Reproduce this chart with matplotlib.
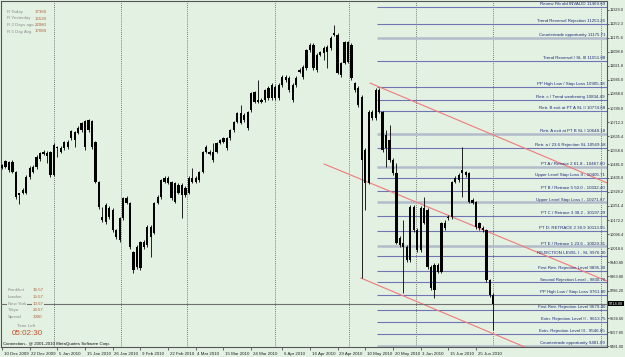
import matplotlib
matplotlib.use("Agg")
import matplotlib.pyplot as plt
import matplotlib.transforms as mtransforms

# Daily candles (body top / body bottom / high / low), 10 Dec 2009 - 1 Jul 2010
body_hi = [10476, 10498, 10493, 10493, 10438, 10322, 10339, 10410, 10460, 10465,
           10520, 10542, 10548, 10542, 10548, 10586, 10575, 10570, 10603, 10603,
           10663, 10658, 10680, 10707, 10718, 10724, 10718, 10603, 10383, 10190,
           10256, 10240, 10229, 10119, 10185, 10295, 10295, 10267, 9998, 10025,
           10053, 10053, 10135, 10135, 10267, 10300, 10394, 10405, 10405, 10383,
           10377, 10366, 10366, 10350, 10405, 10405, 10405, 10438, 10548, 10575,
           10548, 10548, 10597, 10614, 10625, 10625, 10669, 10713, 10762, 10762,
           10751, 10768, 10872, 10878, 10834, 10834, 10889, 10900, 10916, 10905,
           10916, 10960, 10960, 10955, 10916, 10955, 10999, 11015, 11109, 11136,
           11136, 11081, 11098, 11120, 11125, 11175, 11202, 11191, 11037, 11153,
           11153, 11136, 10927, 10900, 10850, 10559, 10768, 10768, 10889, 10889,
           10768, 10641, 10614, 10504, 10432, 10075, 10047, 10025, 10245, 10245,
           10119, 10240, 10240, 10229, 9915, 9926, 9926, 10157, 10157, 10190,
           10383, 10405, 10421, 10449, 10438, 10432, 10284, 10273, 10157, 10130,
           10119, 9844, 9761]
body_lo = [10460, 10465, 10449, 10438, 10300, 10311, 10322, 10322, 10410, 10438,
           10465, 10510, 10537, 10526, 10421, 10421, 10570, 10548, 10570, 10575,
           10625, 10614, 10652, 10669, 10575, 10669, 10575, 10383, 10245, 10174,
           10163, 10190, 10119, 10080, 10064, 10185, 10267, 10025, 9899, 9915,
           9910, 10025, 10036, 10080, 10102, 10267, 10300, 10383, 10377, 10295,
           10273, 10322, 10311, 10311, 10322, 10383, 10383, 10394, 10438, 10548,
           10537, 10504, 10548, 10597, 10603, 10570, 10625, 10669, 10713, 10707,
           10724, 10680, 10779, 10823, 10823, 10823, 10834, 10845, 10845, 10845,
           10845, 10916, 10944, 10889, 10834, 10916, 10988, 10960, 11010, 11109,
           11010, 10999, 11081, 11092, 11098, 11120, 11191, 10982, 10971, 11037,
           11043, 10955, 10889, 10806, 10504, 10377, 10377, 10735, 10735, 10768,
           10559, 10570, 10504, 10432, 10047, 10036, 10025, 9954, 9954, 10119,
           10009, 10009, 10157, 9915, 9800, 9789, 9888, 9888, 10130, 10185,
           10190, 10383, 10394, 10432, 10421, 10273, 10267, 10135, 10130, 10119,
           9844, 9761, 9714]
high = [10482, 10504, 10500, 10504, 10445, 10325, 10350, 10420, 10470, 10475,
        10530, 10550, 10560, 10555, 10555, 10595, 10580, 10580, 10610, 10612,
        10670, 10665, 10690, 10715, 10725, 10730, 10725, 10610, 10390, 10245,
        10265, 10250, 10240, 10125, 10190, 10300, 10305, 10275, 10005, 10035,
        10060, 10065, 10145, 10145, 10275, 10310, 10400, 10415, 10415, 10390,
        10385, 10375, 10375, 10360, 10415, 10460, 10415, 10445, 10555, 10585,
        10560, 10597, 10605, 10620, 10632, 10632, 10675, 10720, 10770, 10806,
        10760, 10775, 10880, 10885, 10944, 10845, 10895, 10910, 10925, 10915,
        10925, 10970, 10970, 10965, 10925, 10965, 11010, 11025, 11115, 11145,
        11145, 11090, 11105, 11130, 11135, 11185, 11246, 11200, 11045, 11160,
        11160, 11145, 10935, 10910, 10860, 10570, 10780, 10780, 10900, 10900,
        10775, 10669, 10696, 10515, 10487, 10085, 10174, 10035, 10255, 10255,
        10130, 10250, 10300, 10240, 9925, 9935, 9935, 10165, 10174, 10200,
        10390, 10415, 10430, 10575, 10445, 10440, 10295, 10280, 10165, 10140,
        10125, 9850, 9770]
low = [10454, 10460, 10440, 10430, 10290, 10262, 10315, 10315, 10400, 10430,
       10455, 10500, 10530, 10487, 10410, 10415, 10520, 10540, 10560, 10565,
       10615, 10575, 10645, 10660, 10559, 10660, 10565, 10375, 10235, 10163,
       10150, 10180, 10110, 10070, 10055, 10175, 10260, 10015, 9882, 9905,
       9900, 10015, 10025, 9970, 10095, 10260, 10290, 10375, 10370, 10285,
       10265, 10315, 10185, 10300, 10315, 10375, 10375, 10385, 10430, 10540,
       10530, 10493, 10540, 10590, 10595, 10560, 10615, 10660, 10705, 10700,
       10715, 10670, 10770, 10815, 10815, 10815, 10825, 10835, 10835, 10835,
       10835, 10905, 10935, 10880, 10825, 10905, 10980, 10950, 11000, 11100,
       11000, 10990, 11075, 11054, 11010, 11110, 11185, 10975, 10960, 11030,
       11035, 10945, 10880, 10795, 9855, 10229, 10370, 10725, 10725, 10760,
       10550, 10465, 10495, 10420, 10040, 10025, 9772, 9945, 9945, 10110,
       10000, 10000, 10150, 9905, 9790, 9745, 9880, 9880, 10120, 10175,
       10180, 10375, 10385, 10300, 10410, 10265, 10260, 10125, 10120, 10110,
       9835, 9750, 9569]

# Date labels along the bottom (bar index of each label)
date_pos = [0, 8, 16, 24, 32, 40, 48, 56, 64, 72, 81, 89, 97, 105, 113, 121, 129, 137]
date_labels = ["10 Dec 2009", "22 Dec 2009", "5 Jan 2010", "15 Jan 2010", "26 Jan 2010",
               "9 Feb 2010", "22 Feb 2010", "4 Mar 2010", "15 Mar 2010", "24 Mar 2010",
               "6 Apr 2010", "16 Apr 2010", "29 Apr 2010", "10 May 2010", "20 May 2010",
               "3 Jun 2010", "15 Jun 2010", "25 Jun 2010"]
# Month separators (first bar of each month)
month_pos = [15, 34.4, 53.5, 79, 100.3, 119.7, 142, 173]

# Price scale on the right
price_ticks = [11329.0, 11252.3, 11175.6, 11098.8, 11021.8, 10945.0, 10868.0, 10789.0,
               10712.3, 10635.4, 10558.6, 10481.0, 10405.0, 10328.2, 10251.4, 10172.2,
               10096.4, 10018.6, 9940.80, 9863.80, 9786.20, 9634.60, 9557.80, 9481.00]
bid = 9714.00

# Horizontal levels drawn by the indicator
level_price = [11345, 11253.26, 11175.71, 11051.08, 10905.38, 10834.49, 10774.68,
               10648.18, 10569.58, 10467.60, 10405.71, 10332.40, 10271.67, 10197.29,
               10113.55, 10029.31, 9976.30, 9895.30, 9830.70, 9761.80, 9679.40,
               9613.75, 9546.65, 9481.09]
level_text = ["Renew Fib old INVALID 11469.69", "Trend Reversal Rejection 11253.26",
              "Countertrade opportunity 11175.71", "Trend Reversal / SL III 11051.08",
              "PP High Low / Stop Loss 10905.38", "Retr. c / Trend weakening 10834.49",
              "Retr. B exit at PT A SL II 10774.68", "Retr. A exit at PT B SL I 10648.18",
              "Retr. a / 23.6 Rejection SL 10569.58", "PT A / Retrace 2 61.8 - 10467.60",
              "Upper Level Stop Loss II - 10405.71", "PT B / Retrace 5 50.0 - 10332.40",
              "Upper Level Stop Loss I - 10271.67", "PT C / Retrace 3 38.2 - 10197.29",
              "PT D: RETRACE 2 38.9 10113.55", "PT E / Retrace 1 23.6 - 10029.31",
              "REJECTION LEVEL I - SL 9976.30", "First Retr. Rejection Level 9895.30",
              "Second Rejection Level - 9830.70", "PP High Low / Stop Loss 9761.80",
              "First Retr. Rejection Level 9679.40", "Extn. Rejection Level II - 9613.75",
              "Extn. Rejection Level III - 9546.65", "Countertrade opportunity 9481.09"]
level_grey = [2, 7, 9, 12, 15, 23]
level_start = 108.4

# Channel lines: (start bar, start price, end bar, end price)
channels = [(106.4, 10927, 174.9, 10378),
            (93.1, 10482, 174.9, 9838),
            (103.7, 9855, 174.9, 9285)]

# Info panels
info_top = [("R Today", "17360"), ("R Yesterday", "15530"),
            ("R 2 Days ago", "22080"), ("R 5 Day Avg", "17089")]
info_clock = [("Frankfurt", "16:57"), ("London", "15:57"), ("New York", "10:57"),
              ("Tokyo", "23:57"), ("Spread", "3000")]

BG = "#e3f1e3"
NAVY = "#1f2a7a"
FONT = "Liberation Sans"
W, H = 625, 357

fig = plt.figure(figsize=(W / 100, H / 100), dpi=100, facecolor=BG)
ax = fig.add_axes([1 / W, (H - 347) / H, 606 / W, 346 / H])
ax.set_facecolor(BG)
ax.set_xlim(-0.29, 174.86)
ax.set_ylim(9475.5, 11378.5)

n = len(body_hi)
xs = list(range(n))

# month separators
for m in month_pos:
    ax.axvline(m, color="#555555", lw=0.6, ls=(0, (1, 1.5)), zorder=1)

# levels
for i, (p, t) in enumerate(zip(level_price, level_text)):
    if i in level_grey:
        ax.hlines(p, level_start, 174.86, color="#b3bbca", lw=1.8, zorder=2)
    else:
        ax.hlines(p, level_start, 174.86, color="#6f74b4", lw=0.8, zorder=2)
    ax.text(174.3, p + 4, t, ha="right", va="bottom", fontsize=3.2,
            color=NAVY, family=FONT, zorder=5)

# channel lines
for x0, y0, x1, y1 in channels:
    ax.plot([x0, x1], [y0, y1], color="#f07a7a", lw=0.8, zorder=3)

# bid line
ax.axhline(bid, color="#707070", lw=0.8, zorder=3)

# candles
ax.vlines(xs, low, high, color="black", lw=0.6, zorder=4)
heights = [max(h - l, 5.5) for h, l in zip(body_hi, body_lo)]
ax.bar(xs, heights, bottom=body_lo, width=0.65, color="black", lw=0, zorder=4)

# axes styling
for s in ax.spines.values():
    s.set_color("#555555")
    s.set_linewidth(0.8)
ax.yaxis.tick_right()
ax.set_yticks(price_ticks)
ax.set_yticklabels(["%.1f" % v if v >= 10000 else "%.2f" % v for v in price_ticks])
ax.set_xticks(date_pos)
ax.set_xticklabels(date_labels)
ax.tick_params(axis="x", length=2, width=0.5, color="#333333", labelsize=3.2,
               labelcolor="#222222", pad=1.5)
ax.tick_params(axis="y", length=1.5, width=0.5, color="#333333", labelsize=2.75,
               labelcolor="#222222", pad=0.6)
offset = mtransforms.ScaledTranslation(1.2 / 72, 0, fig.dpi_scale_trans)
for lab in ax.get_xticklabels():
    lab.set_horizontalalignment("left")
    lab.set_transform(lab.get_transform() + offset)
    lab.set_family(FONT)
for lab in ax.get_yticklabels():
    lab.set_family(FONT)

# current price box
ax.text(1.003, bid, "%.2f" % bid, transform=ax.get_yaxis_transform(), ha="left",
        va="center", fontsize=2.75, color="white", family=FONT,
        bbox=dict(facecolor="black", edgecolor="none", pad=0.5), clip_on=False)

# info texts
def px(x, y):
    return x / W, 1 - y / H

for k, (a, b) in enumerate(info_top):
    fig.text(*px(7, 12 + 6.5 * k), a, fontsize=3.2, color="#8c8c8c", va="center",
             family=FONT)
    fig.text(*px(35, 12 + 6.5 * k), b, fontsize=3.2, color="#b0603c", va="center",
             family=FONT)

bb = dict(facecolor=BG, edgecolor="none", pad=0.4)
for k, (a, b) in enumerate(info_clock):
    fig.text(*px(8, 290 + 6.8 * k), a, fontsize=3.2, color="#8c8c8c", va="center",
             family=FONT, bbox=bb)
    fig.text(*px(33, 290 + 6.8 * k), b, fontsize=3.2, color="#b0603c", va="center",
             family=FONT, bbox=bb)
fig.text(*px(26, 326), "Time Left", fontsize=3.2, color="#8c8c8c", va="center",
         ha="center", family=FONT)
fig.text(*px(27, 333.5), "05:02:30", fontsize=5.8, color="#c0502a", va="center",
         ha="center", family=FONT)
fig.text(*px(3, 344), "Connection.. @ 2001-2010 MetaQuotes Software Corp.",
         fontsize=3.2, color="#111111", va="center", family=FONT)

fig.savefig("out.png", dpi=100, facecolor=BG)
